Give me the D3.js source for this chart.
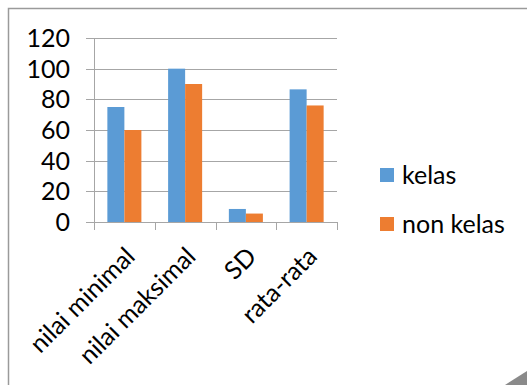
<!DOCTYPE html>
<html><head><meta charset="utf-8">
<script src="https://cdn.jsdelivr.net/npm/d3@7"></script>
<style>html,body{margin:0;padding:0;background:#fff;}svg{display:block;}</style>
</head><body>
<svg id="c" width="527" height="385"></svg>
<script>
const categories = ["nilai minimal", "nilai maksimal", "SD", "rata-rata"];
const seriesNames = ["kelas", "non kelas"];
const kelas = [75, 100, 8.5, 86.5];
const nonKelas = [60, 90, 5.5, 76];
const yTicks = [0, 20, 40, 60, 80, 100, 120];
const colors = ["#5B9BD5", "#ED7D31"];

const svg = d3.select("#c");
const font = "Lato, 'Open Sans', sans-serif";
const fs = 25;

// frame
svg.append("rect").attr("x", 8.5).attr("y", 8.5).attr("width", 540).attr("height", 400)
  .attr("fill", "#fff").attr("stroke", "#9a9a9a").attr("stroke-width", 1.5);
svg.append("polygon").attr("points", "505,385 527,385 527,371").attr("fill", "#8a8a8a");

const x0 = d3.scaleBand().domain(categories).range([94, 337]).paddingInner(0.44).paddingOuter(0.22);
const x1 = d3.scaleBand().domain(seriesNames).range([0, x0.bandwidth()]);
const y = d3.scaleLinear().domain([0, 120]).range([222, 38]);

// gridlines
svg.append("g").selectAll("line").data(yTicks).join("line")
  .attr("x1", 86).attr("x2", 337)
  .attr("y1", d => Math.round(y(d)) + 0.5).attr("y2", d => Math.round(y(d)) + 0.5)
  .attr("stroke", "#a6a6a6").attr("stroke-width", 1);

// bars
const data = categories.map((c, i) => ({c, vals: [kelas[i], nonKelas[i]]}));
const g = svg.append("g").selectAll("g").data(data).join("g")
  .attr("transform", d => `translate(${x0(d.c)},0)`);
g.selectAll("rect").data(d => d.vals.map((v, j) => ({v, s: seriesNames[j], j}))).join("rect")
  .attr("x", d => x1(d.s)).attr("width", x1.bandwidth())
  .attr("y", d => y(d.v)).attr("height", d => y(0) - y(d.v))
  .attr("fill", d => colors[d.j]);

// y axis line
svg.append("line").attr("x1", 94.5).attr("x2", 94.5).attr("y1", 38).attr("y2", 222)
  .attr("stroke", "#a6a6a6");
// x axis line + ticks
svg.append("line").attr("x1", 86).attr("x2", 337).attr("y1", 222.5).attr("y2", 222.5)
  .attr("stroke", "#a6a6a6");
const bounds = categories.map(c => x0(c) - x0.step() * x0.paddingInner() / 2).concat([337]);
svg.append("g").selectAll("line").data(bounds).join("line")
  .attr("x1", d => Math.round(d) + 0.5).attr("x2", d => Math.round(d) + 0.5)
  .attr("y1", 222).attr("y2", 230).attr("stroke", "#a6a6a6");

// y labels
svg.append("g").selectAll("text").data(yTicks).join("text")
  .attr("x", 70).attr("y", d => y(d)).attr("dy", "0.36em")
  .attr("text-anchor", "end").attr("font-family", font).attr("font-size", fs)
  .attr("fill", "#000").text(d => d);

// x labels
svg.append("g").selectAll("text").data(categories).join("text")
  .attr("transform", d => `translate(${x0(d) + x0.bandwidth() / 2 + 12},258) rotate(-45)`)
  .attr("text-anchor", "end")
  .attr("font-family", font).attr("font-size", fs).attr("fill", "#000").text(d => d);

// legend
const lg = svg.append("g").selectAll("g").data(seriesNames).join("g")
  .attr("transform", (d, i) => `translate(380,${168 + i * 49})`);
lg.append("rect").attr("width", 14).attr("height", 14).attr("fill", (d, i) => colors[i]);
lg.append("text").attr("x", 22).attr("y", 7).attr("dy", "0.36em")
  .attr("font-family", font).attr("font-size", fs).attr("fill", "#000").text(d => d);
</script>
</body></html>
